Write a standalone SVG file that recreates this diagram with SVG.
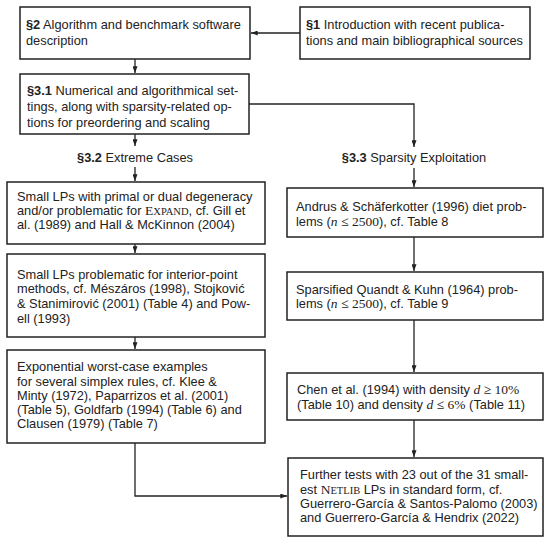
<svg xmlns="http://www.w3.org/2000/svg" width="550" height="540" viewBox="0 0 550 540">
<style>
.box{fill:#fff;stroke:#222;stroke-width:1.5}
.t{font-family:"Liberation Sans",Arial,sans-serif;font-size:12.8px;fill:#222}
.b{font-weight:bold}
.m{font-family:"Liberation Serif","Times New Roman",serif;font-size:13.5px}
.i{font-style:italic}
.sc{font-size:10.5px}
.c{fill:none;stroke:#222;stroke-width:1.3}
</style>
<defs>
<marker id="ah" viewBox="0 0 8 6" refX="8" refY="3" markerWidth="7" markerHeight="5" markerUnits="userSpaceOnUse" orient="auto">
<path d="M0,0 L8,3 L0,6 z" fill="#222"/>
</marker>
</defs>
<rect width="550" height="540" fill="#fff"/>
<g id="connectors">
<line class="c" x1="300" y1="33" x2="251" y2="33" marker-end="url(#ah)"/>
<line class="c" x1="135" y1="59" x2="135" y2="73" marker-end="url(#ah)"/>
<line class="c" x1="135" y1="134" x2="135" y2="146" marker-end="url(#ah)"/>
<polyline class="c" points="249,104 414,104 414,147" marker-end="url(#ah)"/>
<line class="c" x1="135" y1="167" x2="135" y2="181" marker-end="url(#ah)"/>
<line class="c" x1="135" y1="244" x2="135" y2="253" marker-end="url(#ah)"/>
<line class="c" x1="135" y1="337" x2="135" y2="349" marker-end="url(#ah)"/>
<polyline class="c" points="135,443 135,496 287,496" marker-end="url(#ah)"/>
<line class="c" x1="414" y1="168" x2="414" y2="187" marker-end="url(#ah)"/>
<line class="c" x1="414" y1="237" x2="414" y2="271" marker-end="url(#ah)"/>
<line class="c" x1="414" y1="320" x2="414" y2="372" marker-end="url(#ah)"/>
<line class="c" x1="414" y1="420" x2="414" y2="457" marker-end="url(#ah)"/>
</g>
<g id="s2">
<rect class="box" x="20" y="7" width="230" height="52"/>
<text class="t" x="26" y="29"><tspan class="b">§2</tspan> Algorithm and benchmark software</text>
<text class="t" x="26" y="45">description</text>
</g>
<g id="s1">
<rect class="box" x="300" y="7" width="230" height="52"/>
<text class="t" x="306" y="29"><tspan class="b">§1</tspan> Introduction with recent publica-</text>
<text class="t" x="306" y="45">tions and main bibliographical sources</text>
</g>
<g id="s31">
<rect class="box" x="20" y="74" width="229" height="60"/>
<text class="t" x="27" y="95"><tspan class="b">§3.1</tspan> Numerical and algorithmical set-</text>
<text class="t" x="27" y="111">tings, along with sparsity-related op-</text>
<text class="t" x="27" y="127">tions for preordering and scaling</text>
</g>
<g id="s32">
<text class="t" x="135" y="162" text-anchor="middle"><tspan class="b">§3.2</tspan> Extreme Cases</text>
</g>
<g id="s33">
<text class="t" x="414" y="162" text-anchor="middle"><tspan class="b">§3.3</tspan> Sparsity Exploitation</text>
</g>
<g id="l1">
<rect class="box" x="7" y="182" width="258" height="62"/>
<text class="t" x="17" y="201">Small LPs with primal or dual degeneracy</text>
<text class="t" x="17" y="215">and/or problematic for <tspan class="m">E<tspan class="sc">XPAND</tspan></tspan>, cf.  Gill et</text>
<text class="t" x="17" y="229">al. (1989) and Hall &amp; McKinnon (2004)</text>
</g>
<g id="l2">
<rect class="box" x="7" y="254" width="258" height="83"/>
<text class="t" x="17" y="279">Small LPs problematic for interior-point</text>
<text class="t" x="17" y="293">methods, cf.  Mészáros (1998), Stojković</text>
<text class="t" x="17" y="308">&amp; Stanimirović (2001) (Table 4) and Pow-</text>
<text class="t" x="17" y="323">ell (1993)</text>
</g>
<g id="l3">
<rect class="box" x="7" y="350" width="258" height="93"/>
<text class="t" x="17" y="371">Exponential worst-case examples</text>
<text class="t" x="17" y="386">for several simplex rules, cf.  Klee &amp;</text>
<text class="t" x="17" y="400">Minty (1972), Paparrizos et al. (2001)</text>
<text class="t" x="17" y="414">(Table 5), Goldfarb  (1994) (Table 6) and</text>
<text class="t" x="17" y="428">Clausen (1979) (Table 7)</text>
</g>
<g id="r1">
<rect class="box" x="287" y="188" width="256" height="49"/>
<text class="t" x="296" y="211">Andrus &amp; Schäferkotter (1996) diet prob-</text>
<text class="t" x="296" y="226">lems (<tspan class="m i">n</tspan> <tspan class="m">≤ 2500</tspan>), cf.  Table 8</text>
</g>
<g id="r2">
<rect class="box" x="287" y="272" width="256" height="48"/>
<text class="t" x="296" y="294">Sparsified Quandt &amp; Kuhn (1964) prob-</text>
<text class="t" x="296" y="308">lems (<tspan class="m i">n</tspan> <tspan class="m">≤ 2500</tspan>), cf.  Table 9</text>
</g>
<g id="r3">
<rect class="box" x="287" y="373" width="256" height="47"/>
<text class="t" x="297" y="394">Chen et al. (1994) with density <tspan class="m i">d</tspan> <tspan class="m">≥ 10%</tspan></text>
<text class="t" x="297" y="409">(Table 10) and density <tspan class="m i">d</tspan> <tspan class="m">≤ 6%</tspan> (Table 11)</text>
</g>
<g id="r4">
<rect class="box" x="288" y="458" width="255" height="78"/>
<text class="t" x="300" y="479">Further tests with 23 out of the 31 small-</text>
<text class="t" x="300" y="494">est <tspan class="m">N<tspan class="sc">ETLIB</tspan></tspan> LPs in standard form, cf.</text>
<text class="t" x="300" y="508">Guerrero-García &amp; Santos-Palomo (2003)</text>
<text class="t" x="300" y="522">and Guerrero-García &amp; Hendrix (2022)</text>
</g>
</svg>
